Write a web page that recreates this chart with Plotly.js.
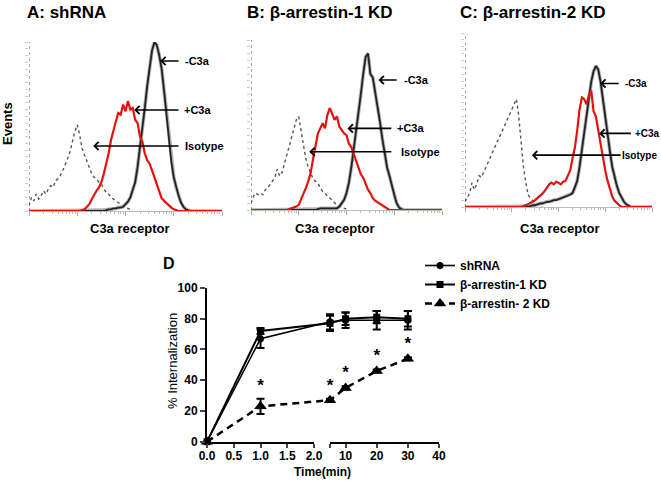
<!DOCTYPE html>
<html><head><meta charset="utf-8">
<script src="https://cdn.plot.ly/plotly-3.0.1.min.js"></script>
<style>body{margin:0;background:#fff}#chart{width:661px;height:482px}</style>
</head><body><div id="chart"></div>
<script>
// ---------- Flow cytometry histograms (x in log decades, channel bins of 0.05 decade) ----------
const BIN = 0.05;
const DECADES = 4;

// Panel A: shRNA
const A_iso_first = 0;
const A_iso = [3,8,6,10,7,9,12,10,13,15,14,18,19,21,24,27,31,35,41,47,51,45,37,33,29,26,22,20,19,17,16,13,11,10,8,7,6,4.5,3.5,2.5,2,1.5,0.5,0];
const A_minus_first = 32;
const A_minus = [0.5,1,1,1.5,1.5,2,2,2.5,4,5.5,8,12,17,26,37,47,61,74,86,95,100,98,92,84,71,57,43,29,20,14,9,5,2.5,1,0.5,0];
const A_plus_first = 22;
const A_plus = [0.5,1,2.5,4,7,10,12,14,17,22,28,34,42,48,53,58,57,63,59,65,60,61,54,52,44,41,34,30,28,24,20,15,11,7.5,6,4.5,3,2,1,0.5,0];

// Panel B: beta-arrestin-1 KD
const B_iso_first = 0;
const B_iso = [4,8,10,9,10,9,12,13,15,17,19,24,20,22,27,32,37,43,48,53,55,45,38,30,25,22,18,17,16,13,11,10,8,7,5.5,4,3,2,1.5,1,0.5,0];
const B_minus_first = 28;
const B_minus = [0.5,1,1,1,1,1,1,1,1,2,4,6,10,16,25,35,46,56,68,80,90,92,80,78,70,61,52,42,33,25,20,14,9,4,1.5,0.5,0];
const B_plus_first = 16;
const B_plus = [0.5,1,1.5,2,3,6,9,13,17,22,30,38,45,48,51,48,56,60,57,53,55,49,47,45,44,39,37,33,29,25,21,19,15,12,10,7,5.5,4.5,4,2.5,1.5,0.5,0];

// Panel C: beta-arrestin-2 KD
const C_iso_first = 0;
const C_iso = [3,6,8,14,10,13,18,17,20,23,26,29,33,36,38,41,44,47,51,54,57,59,62,52,38,23,14,7,5,3.5,2.5,1.5,0.5,0];
const C_minus_first = 28;
const C_minus = [0.5,1,1,1.5,2,2,2.5,3,3,3.5,4,4,4.5,5,5.5,6,6.5,7,8,11,15,23,33,43,53,62,72,78,81,79,72,62,51,42,32,23,17,12,8,5,3,1.5,0.5,0];
const C_plus_first = 25;
const C_plus = [0.5,1,1.5,2.5,3,4,5,6.5,7.5,9,11,13,14,13,14.5,14,13,14.5,15,18,21,28,34,44,56,63,62,59,64,67,55,52,44,36,28,21,15,10,6,3.5,2,1,0];

const panelTitles = ['A: shRNA', 'B: \u03b2-arrestin-1 KD', 'C: \u03b2-arrestin-2 KD'];
const markerLabels = ['-C3a', '+C3a', 'Isotype'];

// ---------- Internalization time course ----------
const timeMin = [0, 1, 5, 10, 20, 30];
const shRNA = [0, 67, 78, 79, 79, 79];
const shRNA_sem = [0, 6, 5, 5, 6, 6];
const arr1 = [0, 72, 77, 80, 81, 80];
const arr1_sem = [0, 2, 5, 4, 4, 5];
const arr2 = [0, 23, 27, 35, 46, 54];
const arr2_sem = [0, 5, 1, 1, 1, 1];
const arr2_significant = [false, true, true, true, true, true];
const seriesNames = ['shRNA', '\u03b2-arrestin-1 KD', '\u03b2-arrestin- 2 KD'];
const xTicks1 = [0, 0.5, 1, 1.5, 2];
const xTicks2 = [10, 20, 30, 40];

// ---------- layout geometry (pixels) ----------
const W = 661, H = 482;
const FONT = 'Liberation Sans, Arial, sans-serif';
const px = v => v / W, py = v => 1 - v / H;

// arrows: [head x, head y, tail x, text x, text anchor]  (x in decades, y in % of panel height)
const panels = [
  {iso: A_iso, isoF: A_iso_first, minus: A_minus, minusF: A_minus_first, plus: A_plus, plusF: A_plus_first,
   x0: 29, x1: 222, yTop: 42, yBot: 211, labelSize: 11,
   arrows: [[2.72, 88.8, 3.13, 3.19, 'left'], [2.18, 59.8, 3.13, 3.17, 'left'], [1.33, 38.5, 3.13, 3.19, 'left']],
   title: [25, 'left'], xlab: 129.5},
  {iso: B_iso, isoF: B_iso_first, minus: B_minus, minusF: B_minus_first, plus: B_plus, plusF: B_plus_first,
   x0: 251, x1: 442, yTop: 40, yBot: 210, labelSize: 11,
   arrows: [[2.67, 76.5, 3.08, 3.16, 'left'], [2.02, 48, 2.97, 3.02, 'left'], [1.22, 34.3, 2.97, 3.1, 'left']],
   title: [319, 'center'], xlab: 335},
  {iso: C_iso, isoF: C_iso_first, minus: C_minus, minusF: C_minus_first, plus: C_plus, plusF: C_plus_first,
   x0: 465, x1: 652, yTop: 33, yBot: 207, labelSize: 10,
   arrows: [[2.89, 71, 3.32, 3.37, 'left'], [2.87, 42.3, 3.58, 3.6, 'left'], [1.43, 29.8, 3.36, 4.16, 'right']],
   title: [532.5, 'center'], xlab: 559}
];

function binsX(first, n) { return Array.from({length: n}, (_, i) => +((first + i) * BIN).toFixed(3)); }
function fullRange(first, vals) {
  const nb = Math.round(DECADES / BIN) + 1;
  const y = new Array(nb).fill(0);
  vals.forEach((v, i) => { y[first + i] = v; });
  return {x: binsX(0, nb), y: y};
}

const traces = [];
const layout = {
  width: W, height: H, margin: {l: 0, r: 0, t: 0, b: 0},
  paper_bgcolor: '#fff', plot_bgcolor: 'rgba(0,0,0,0)',
  font: {family: FONT, color: '#000'},
  showlegend: true,
  legend: {x: px(420), y: py(251), xanchor: 'left', yanchor: 'top',
           font: {family: FONT, size: 12, weight: 700, color: '#000'}, bgcolor: 'rgba(0,0,0,0)',
           tracegroupgap: 0, itemwidth: 30},
  annotations: [], shapes: []
};

// minor log tick positions
const minorLog = [];
for (let d = 0; d < DECADES; d++) for (let m = 2; m <= 9; m++) minorLog.push(d + Math.log10(m));

panels.forEach((p, k) => {
  const n = k + 1, xa = 'x' + (n === 1 ? '' : n), ya = 'y' + (n === 1 ? '' : n);
  const xk = 'xaxis' + (n === 1 ? '' : n), yk = 'yaxis' + (n === 1 ? '' : n);
  const decToPaper = d => px(p.x0 + d * (p.x1 - p.x0) / DECADES);
  layout[xk] = {domain: [px(p.x0), px(p.x1)], range: [0, DECADES], anchor: ya,
    showgrid: false, zeroline: false, showline: true, linecolor: '#bbb', linewidth: 1,
    ticks: 'outside', tickvals: [0, 1, 2, 3, 4], ticklen: 4, tickcolor: '#aaa', tickwidth: 1,
    showticklabels: false, fixedrange: true,
    minor: {tickvals: minorLog, ticks: 'outside', ticklen: 2, tickcolor: '#bbb', tickwidth: 1}};
  layout[yk] = {domain: [py(p.yBot), py(p.yTop)], range: [0, 100], anchor: xa,
    showgrid: false, zeroline: false, showline: false, ticks: 'outside', dtick: 4,
    ticklen: 3, tickcolor: '#ccc', tickwidth: 1, showticklabels: false, fixedrange: true};
  // dotted y axis line
  layout.shapes.push({type: 'line', xref: xa, x0: 0, x1: 0, yref: ya + ' domain', y0: 0, y1: 1,
    line: {color: '#555', width: 1, dash: 'dot'}});

  traces.push({x: binsX(p.isoF, p.iso.length), y: p.iso, xaxis: xa, yaxis: ya, mode: 'lines',
    line: {color: '#555', width: 1.4, dash: 'dot'}, showlegend: false, hoverinfo: 'skip'});
  const m = fullRange(p.minusF, p.minus);
  traces.push({x: m.x, y: m.y, xaxis: xa, yaxis: ya, mode: 'lines',
    line: {color: '#b0b0b0', width: 3.6}, showlegend: false, hoverinfo: 'skip', cliponaxis: false});
  traces.push({x: m.x, y: m.y, xaxis: xa, yaxis: ya, mode: 'lines',
    line: {color: '#222', width: 1.8}, showlegend: false, hoverinfo: 'skip', cliponaxis: false});
  const r = fullRange(p.plusF, p.plus);
  traces.push({x: r.x, y: r.y, xaxis: xa, yaxis: ya, mode: 'lines',
    line: {color: '#e8100c', width: 2.2}, showlegend: false, hoverinfo: 'skip', cliponaxis: false});

  p.arrows.forEach((a, j) => {
    layout.annotations.push({xref: xa, yref: ya, x: a[0], y: a[1], axref: xa, ayref: ya, ax: a[2], ay: a[1],
      text: '', showarrow: true, arrowhead: 4, arrowsize: 1, arrowwidth: 1.6, arrowcolor: '#000'});
    layout.annotations.push({xref: 'paper', yref: ya, x: decToPaper(a[3]), y: a[1], text: '<b>' + markerLabels[j] + '</b>',
      showarrow: false, xanchor: a[4], yanchor: 'middle', font: {size: p.labelSize, family: FONT}});
  });

  layout.annotations.push({xref: 'paper', yref: 'paper', x: px(p.title[0]), y: py(12.5),
    xanchor: p.title[1], yanchor: 'middle', showarrow: false, text: '<b>' + panelTitles[k] + '</b>',
    font: {size: 17, family: FONT}});
  layout.annotations.push({xref: 'paper', yref: 'paper', x: px(p.xlab), y: py(228),
    xanchor: 'center', yanchor: 'middle', showarrow: false, text: '<b>C3a receptor</b>',
    font: {size: 13, family: FONT}});
});
layout.annotations.push({xref: 'paper', yref: 'paper', x: px(8), y: py(124), textangle: -90,
  xanchor: 'center', yanchor: 'middle', showarrow: false, text: '<b>Events</b>', font: {size: 13, family: FONT}});

// ---------- Panel D with broken x axis ----------
const D_x0 = 207, seg1Px = 107, gapPx = 16, seg2Px = 109;
const seg1 = [0, 2], seg2 = [5, 40];
const D_top = 288, D_bot = 441.7;
function brokenX(t) {
  return t <= seg1[1] ? (t - seg1[0]) / (seg1[1] - seg1[0]) * seg1Px
    : seg1Px + gapPx + (t - seg2[0]) / (seg2[1] - seg2[0]) * seg2Px;
}
const dX = timeMin.map(brokenX);
const totalPx = seg1Px + gapPx + seg2Px;

layout.xaxis4 = {domain: [px(D_x0), px(D_x0 + totalPx)], range: [0, totalPx], anchor: 'y4',
  visible: false, fixedrange: true};
layout.yaxis4 = {domain: [py(D_bot), py(D_top)], range: [0, 100], anchor: 'x4', dtick: 20,
  showline: true, linewidth: 2, linecolor: '#000', ticks: 'outside', ticklen: 5, tickwidth: 2,
  showgrid: false, zeroline: false, tickfont: {size: 12, weight: 700, family: FONT}, fixedrange: true};
const brokenAxisCommon = {anchor: 'y4', showline: true, linewidth: 2, linecolor: '#000', ticks: 'outside',
  ticklen: 4, tickwidth: 2, showgrid: false, zeroline: false, ticklabelstandoff: -2,
  tickfont: {size: 12, weight: 700, family: FONT}, fixedrange: true};
layout.xaxis5 = Object.assign({domain: [px(D_x0), px(D_x0 + seg1Px)], range: seg1,
  tickvals: xTicks1, ticktext: xTicks1.map(v => v.toFixed(1))}, brokenAxisCommon);
layout.xaxis6 = Object.assign({domain: [px(D_x0 + seg1Px + gapPx), px(D_x0 + totalPx)], range: seg2,
  tickvals: [seg2[0]].concat(xTicks2), ticktext: [''].concat(xTicks2.map(String))}, brokenAxisCommon);
traces.push({x: [], y: [], xaxis: 'x5', yaxis: 'y4', showlegend: false});
traces.push({x: [], y: [], xaxis: 'x6', yaxis: 'y4', showlegend: false});

const errStyle = arr => ({type: 'data', array: arr, visible: true, thickness: 2, width: 4, color: '#000'});
traces.push({name: seriesNames[0], x: dX, y: shRNA, xaxis: 'x4', yaxis: 'y4', mode: 'lines+markers',
  line: {color: '#000', width: 1.6}, marker: {symbol: 'circle', size: 7, color: '#000'},
  error_y: errStyle(shRNA_sem), cliponaxis: false});
traces.push({name: seriesNames[1], x: dX, y: arr1, xaxis: 'x4', yaxis: 'y4', mode: 'lines+markers',
  line: {color: '#000', width: 2}, marker: {symbol: 'square', size: 7, color: '#000'},
  error_y: errStyle(arr1_sem), cliponaxis: false});
traces.push({name: seriesNames[2], x: dX, y: arr2, xaxis: 'x4', yaxis: 'y4', mode: 'lines+markers',
  line: {color: '#000', width: 2.5, dash: '7px,5px'}, marker: {symbol: 'triangle-up', size: 11, color: '#000'},
  error_y: errStyle(arr2_sem), cliponaxis: false});
// significance stars
const sx = [], sy = [];
timeMin.forEach((t, i) => { if (arr2_significant[i]) { sx.push(dX[i]); sy.push(arr2[i] + arr2_sem[i] + 8); } });
traces.push({x: sx, y: sy, xaxis: 'x4', yaxis: 'y4', mode: 'text', text: sx.map(() => '*'),
  textposition: 'middle center', textfont: {size: 17, family: FONT, weight: 700, color: '#000'},
  showlegend: false, hoverinfo: 'skip', cliponaxis: false});

layout.annotations.push({xref: 'paper', yref: 'paper', x: px(169), y: py(263), xanchor: 'center',
  yanchor: 'middle', showarrow: false, text: '<b>D</b>', font: {size: 16, family: FONT}});
layout.annotations.push({xref: 'paper', yref: 'paper', x: px(322), y: py(472), xanchor: 'center',
  yanchor: 'middle', showarrow: false, text: '<b>Time(min)</b>', font: {size: 12, family: FONT}});
layout.annotations.push({xref: 'paper', yref: 'paper', x: px(172), y: py(361), textangle: -90,
  xanchor: 'center', yanchor: 'middle', showarrow: false, text: '% Internalization', font: {size: 13, family: FONT}});

Plotly.newPlot('chart', traces, layout, {staticPlot: true, displayModeBar: false});
</script>
</body></html>
